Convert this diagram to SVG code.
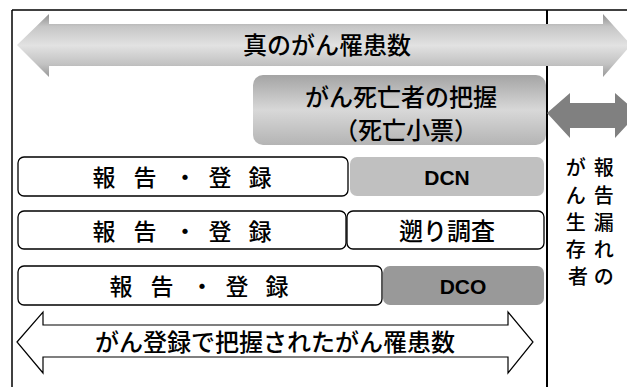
<svg xmlns="http://www.w3.org/2000/svg" width="627" height="387" viewBox="0 0 627 387">
<defs>
<linearGradient id="gTop" gradientUnits="userSpaceOnUse" x1="0" y1="14" x2="0" y2="77">
<stop offset="0" stop-color="#8e8e8e"/>
<stop offset="0.2" stop-color="#c6c6c6"/>
<stop offset="0.5" stop-color="#e2e2e2"/>
<stop offset="0.8" stop-color="#c2c2c2"/>
<stop offset="1" stop-color="#989898"/>
</linearGradient>
<linearGradient id="gDeath" x1="0" y1="0" x2="0" y2="1">
<stop offset="0" stop-color="#a4a4a4"/>
<stop offset="0.5" stop-color="#d8d8d8"/>
<stop offset="1" stop-color="#b4b4b4"/>
</linearGradient>
<style>
.jp{font-family:"Noto Sans CJK JP","Noto Sans",sans-serif;font-weight:500;fill:#000;}
.lat{font-family:"Liberation Sans",Arial,sans-serif;font-weight:bold;fill:#000;font-size:21px;}
.box{fill:#fff;stroke:#000;stroke-width:1.3;}
.frame{stroke:#000;fill:none;}
</style>
</defs>
<rect width="627" height="387" fill="#fff"/>
<g id="frame">
<line class="frame" x1="12" y1="10" x2="627" y2="10" stroke-width="1.5"/>
<line class="frame" x1="12" y1="10" x2="12" y2="387" stroke-width="1.5"/>
<line class="frame" x1="547" y1="10" x2="547" y2="387" stroke-width="2"/>
</g>
<g id="connectors">
<path id="true-incidence-arrow" d="M17,45 L49,14 L49,24 L603,24 L603,14 L631,45 L603,77 L603,66 L49,66 L49,77 Z" fill="url(#gTop)"/>
<path id="missed-arrow" d="M547,113 L570,93 L570,103 L615,103 L615,93 L638,113 L615,138 L615,128 L570,128 L570,138 Z" fill="#808080"/>
<path id="registered-arrow" d="M17,342 L43,312 L43,325 L508,325 L508,312 L533,342 L508,373 L508,357 L43,357 L43,373 Z" fill="#fff" stroke="#000" stroke-width="1.2"/>
</g>
<g id="n-true">
<text class="jp" x="327" y="54" font-size="24" text-anchor="middle">真のがん罹患数</text>
</g>
<g id="n-death">
<rect x="253" y="75" width="293" height="70" rx="10" fill="url(#gDeath)"/>
<text class="jp" x="401" y="106" font-size="24" text-anchor="middle">がん死亡者の把握</text>
<text class="jp" x="406" y="139" font-size="24" text-anchor="middle">（死亡小票）</text>
</g>
<g id="n-row1">
<rect class="box" x="18" y="157" width="330" height="39" rx="6"/>
<text class="jp" x="104 145 185 220 260" y="186" font-size="23" text-anchor="middle">報告・登録</text>
<rect x="350" y="157" width="194" height="39" rx="7" fill="#c0c0c0"/>
<text class="lat" x="447" y="184.5" text-anchor="middle">DCN</text>
</g>
<g id="n-row2">
<rect class="box" x="18" y="211" width="328" height="38" rx="6"/>
<text class="jp" x="104 145 185 220 260" y="240" font-size="23" text-anchor="middle">報告・登録</text>
<rect class="box" x="347" y="211" width="197" height="38" rx="6"/>
<text class="jp" x="447" y="240" font-size="24" text-anchor="middle">遡り調査</text>
</g>
<g id="n-row3">
<rect class="box" x="18" y="266" width="364" height="39" rx="6"/>
<text class="jp" x="121 162 202 237 277" y="295" font-size="23" text-anchor="middle">報告・登録</text>
<rect x="383" y="266" width="161" height="39" rx="7" fill="#999999"/>
<text class="lat" x="463" y="293.5" text-anchor="middle">DCO</text>
</g>
<g id="n-registered">
<text class="jp" x="275" y="351" font-size="24" text-anchor="middle">がん登録で把握されたがん罹患数</text>
</g>
<g id="n-missed">
<text class="jp" font-size="20" text-anchor="middle">
<tspan x="606" y="175">報</tspan>
<tspan x="606" y="203">告</tspan>
<tspan x="606" y="230">漏</tspan>
<tspan x="606" y="257">れ</tspan>
<tspan x="606" y="284">の</tspan>
<tspan x="578" y="175">が</tspan>
<tspan x="578" y="203">ん</tspan>
<tspan x="578" y="230">生</tspan>
<tspan x="578" y="257">存</tspan>
<tspan x="578" y="284">者</tspan>
</text>
</g>
</svg>
